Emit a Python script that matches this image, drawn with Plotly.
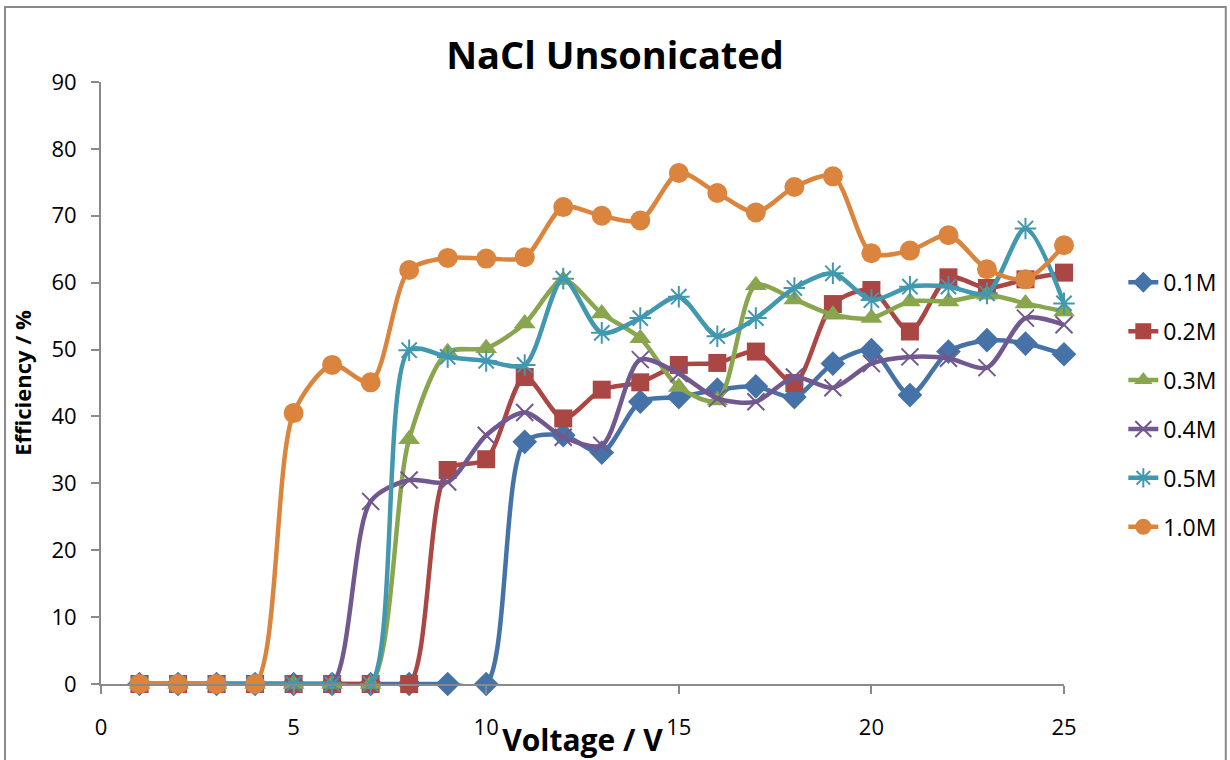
import plotly.graph_objects as go

# Applied voltage (V)
voltage = list(range(1, 26))

# Efficiency (%) for each NaCl concentration
eff_01M = [0, 0, 0, 0, 0, 0, 0, 0, 0, 0, 36.2, 37.2, 34.6, 42.2, 42.9, 44.0, 44.5, 42.9, 47.9, 49.9, 43.2, 49.7, 51.4, 50.9, 49.3]
eff_02M = [0, 0, 0, 0, 0, 0, 0, 0, 32.0, 33.6, 45.9, 39.7, 44.0, 45.1, 47.7, 48.0, 49.7, 45.0, 56.8, 58.9, 52.7, 60.8, 59.2, 60.5, 61.5]
eff_03M = [0, 0, 0, 0, 0, 0, 0, 36.6, 49.6, 50.2, 53.9, 60.4, 55.4, 51.7, 44.4, 42.4, 59.6, 57.5, 55.2, 54.7, 57.2, 57.2, 58.2, 56.9, 55.7]
eff_04M = [0, 0, 0, 0, 0, 0, 27.3, 30.5, 30.2, 37.2, 40.6, 36.9, 35.7, 48.5, 46.4, 42.7, 42.2, 45.9, 44.3, 47.9, 48.9, 48.7, 47.3, 54.7, 53.7]
eff_05M = [0, 0, 0, 0, 0, 0, 0, 49.9, 48.9, 48.3, 47.7, 60.6, 52.5, 54.7, 57.9, 52.0, 54.7, 59.2, 61.4, 57.4, 59.4, 59.4, 58.4, 68.1, 56.9]
eff_10M = [0, 0, 0, 0, 40.5, 47.7, 45.1, 61.9, 63.7, 63.6, 63.8, 71.3, 70.0, 69.3, 76.4, 73.4, 70.5, 74.3, 75.9, 64.4, 64.8, 67.1, 62.0, 60.5, 65.6]

series_names = ["0.1M", "0.2M", "0.3M", "0.4M", "0.5M", "1.0M"]
series_values = [eff_01M, eff_02M, eff_03M, eff_04M, eff_05M, eff_10M]

x_ticks = [0, 5, 10, 15, 20, 25]
y_ticks = [0, 10, 20, 30, 40, 50, 60, 70, 80, 90]

colors = ["#4572A7", "#AA4643", "#89A54E", "#71588F", "#4198AF", "#DB843D"]
symbols = ["diamond", "square", "triangle-up", "x-thin-open", "asterisk-open", "circle"]
sizes = [19, 18, 19, 17, 18, 20]

AXIS_GREY = "#8A8A8A"
FONT = "Open Sans"

fig = go.Figure()
for i, (name, vals) in enumerate(zip(series_names, series_values)):
    open_marker = symbols[i].endswith("open")
    fig.add_trace(go.Scatter(
        x=voltage, y=vals, name=name, mode="lines+markers",
        legendgroup=name,
        line=dict(color=colors[i], width=4.5, shape="spline", smoothing=0.8),
        marker=dict(symbol=symbols[i], size=sizes[i], color=colors[i],
                    line=dict(color=colors[i], width=2 if open_marker else 0)),
        cliponaxis=False,
    ))

# Chart outer border
fig.add_shape(type="rect", xref="paper", yref="paper",
              x0=-0.0997, x1=1.168, y0=-0.16, y1=1.1246,
              line=dict(color=AXIS_GREY, width=2), layer="below")

fig.update_layout(
    width=1230, height=760,
    margin=dict(l=101, r=166, t=82, b=76, autoexpand=False),
    paper_bgcolor="white", plot_bgcolor="white",
    font=dict(family=FONT, color="black"),
    title=dict(text="<b>NaCl Unsonicated</b>", x=0.5, xref="container",
               y=1 - 56 / 760, yref="container", yanchor="middle", xanchor="center",
               font=dict(family=FONT, size=38, color="black")),
    legend=dict(x=1.0616, xanchor="left", y=0.703, yanchor="top",
                font=dict(family=FONT, size=23, color="black"),
                bgcolor="rgba(0,0,0,0)", tracegroupgap=16, itemwidth=30),
    xaxis=dict(range=[0, 25], tickvals=x_ticks, showgrid=False, zeroline=False,
               showline=True, linecolor=AXIS_GREY, linewidth=2,
               ticks="outside", ticklen=8, tickwidth=2, tickcolor=AXIS_GREY,
               tickfont=dict(family=FONT, size=22, color="black"),
               ticklabelstandoff=15, automargin=False,
               title=dict(text="<b>Voltage / V</b>", standoff=2,
                          font=dict(family=FONT, size=30, color="black"))),
    yaxis=dict(range=[0, 90], tickvals=y_ticks, showgrid=False, zeroline=False,
               showline=True, linecolor=AXIS_GREY, linewidth=2,
               ticks="outside", ticklen=8, tickwidth=2, tickcolor=AXIS_GREY,
               tickfont=dict(family=FONT, size=22, color="black"),
               ticklabelstandoff=10, automargin=False,
               title=dict(text="<b>Efficiency / %</b>", standoff=14,
                          font=dict(family=FONT, size=22, color="black"))),
)

fig.write_html("out.html")
